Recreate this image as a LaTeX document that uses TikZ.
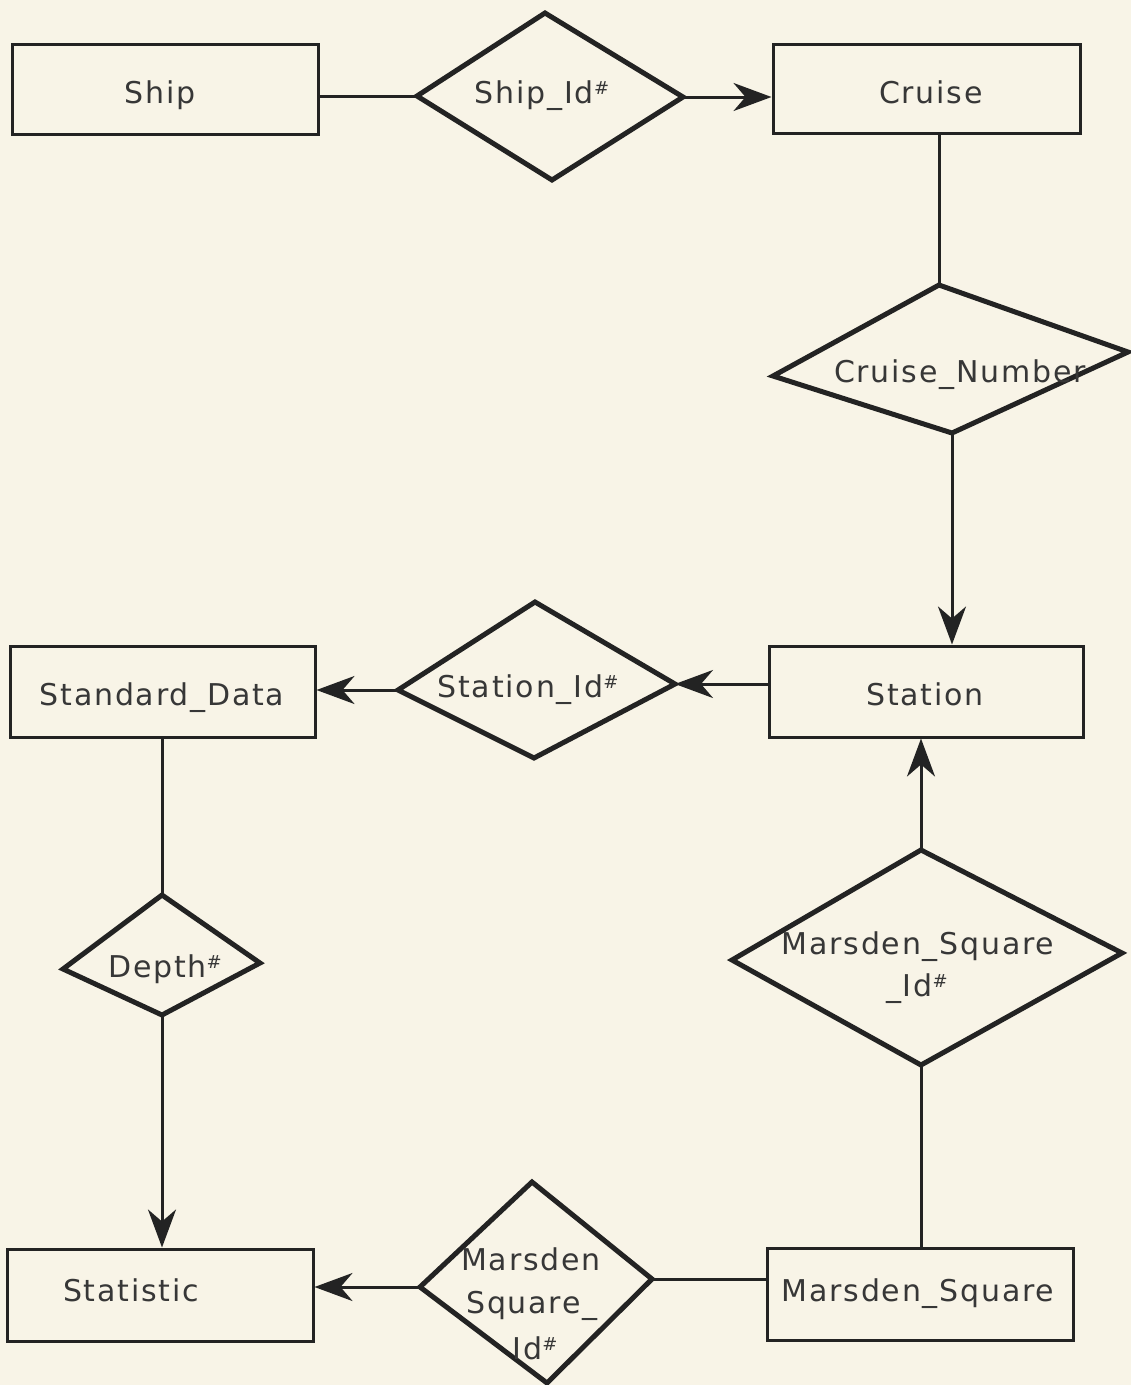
\documentclass[tikz,border=0pt]{standalone}
\usepackage{fontspec}
\setmainfont{DejaVu Sans}[LetterSpace=6]
\usetikzlibrary{arrows.meta}
\definecolor{paper}{RGB}{248,244,231}
\definecolor{ink}{RGB}{35,35,35}
\definecolor{txt}{RGB}{55,55,55}
\newcommand\hsh{\raisebox{9pt}{\fontsize{18}{18}\selectfont\#}}
\begin{document}
\begin{tikzpicture}[x=1pt,y=-1pt,
  entity/.style={draw=ink,line width=3pt,rectangle,inner sep=0pt},
  rel/.style={draw=ink,line width=5pt,line join=miter},
  lbl/.style={font=\fontsize{30}{36}\selectfont,text=txt,inner sep=0pt,
    text height=21.9pt,text depth=0pt},
  conn/.style={draw=ink,line width=3pt},
  arr/.style={conn,-{Stealth[length=38pt,width=28pt,inset=12pt]}}]
\fill[paper] (0,0) rectangle (1131,1385);
\useasboundingbox (0,0) rectangle (1131,1385);
% entities
\node[entity,minimum width=306pt,minimum height=90pt] (ship) at (165,89) {};
\node[entity,minimum width=307pt,minimum height=89pt] (cruise) at (926.5,88.5) {};
\node[entity,minimum width=314pt,minimum height=91pt] (station) at (926,691.5) {};
\node[entity,minimum width=305pt,minimum height=91pt] (stdata) at (162.5,691.5) {};
\node[entity,minimum width=306pt,minimum height=92pt] (statistic) at (160,1295) {};
\node[entity,minimum width=306pt,minimum height=92pt] (msq) at (920,1294) {};
\node[lbl] (shiptext) at (160,93) {Ship};
\node[lbl] (cruisetext) at (931,93) {Cruise};
\node[lbl] (stationtext) at (925,695) {Station};
\node[lbl] (stdatatext) at (162,695) {Standard\_Data};
\node[lbl] (statistictext) at (131,1291) {Statistic};
\node[lbl] (msqtext) at (918,1291) {Marsden\_Square};
% relationship diamonds
\coordinate (sidT) at (545,13);   \coordinate (sidL) at (417,96);
\coordinate (sidR) at (683,97);   \coordinate (sidB) at (552,180);
\coordinate (cnT) at (939,285);   \coordinate (cnL) at (773,376);
\coordinate (cnR) at (1128,352);  \coordinate (cnB) at (952,433);
\coordinate (stidT) at (535,602); \coordinate (stidL) at (398,690);
\coordinate (stidR) at (675,684); \coordinate (stidB) at (534,758);
\coordinate (depT) at (162,895);  \coordinate (depL) at (63,969);
\coordinate (depR) at (260,963);  \coordinate (depB) at (162,1015);
\coordinate (msidT) at (921,850); \coordinate (msidL) at (732,960);
\coordinate (msidR) at (1122,953);\coordinate (msidB) at (921,1065);
\coordinate (mstT) at (532,1182); \coordinate (mstL) at (420,1287);
\coordinate (mstR) at (652,1279); \coordinate (mstB) at (547,1383);
\draw[rel] (sidT) -- (sidR) -- (sidB) -- (sidL) -- cycle;
\draw[rel] (cnT) -- (cnR) -- (cnB) -- (cnL) -- cycle;
\draw[rel] (stidT) -- (stidR) -- (stidB) -- (stidL) -- cycle;
\draw[rel] (depT) -- (depR) -- (depB) -- (depL) -- cycle;
\draw[rel] (msidT) -- (msidR) -- (msidB) -- (msidL) -- cycle;
\draw[rel] (mstT) -- (mstR) -- (mstB) -- (mstL) -- cycle;
% relationship labels
\node[lbl] (sidtext) at (542,92.5) {Ship\_Id\hsh};
\node[lbl] (cntext) at (960,371.5) {Cruise\_Number};
\node[lbl] (stidtext) at (528,686.5) {Station\_Id\hsh};
\node[lbl] (deptext) at (165,966.5) {Depth\hsh};
\node[lbl] (msidtexta) at (918,944) {Marsden\_Square};
\node[lbl] (msidtextb) at (917,986) {\_Id\hsh};
\node[lbl] (msttexta) at (531,1260) {Marsden};
\node[lbl] (msttextb) at (532,1303) {Square\_};
\node[lbl] (msttextc) at (535,1349) {Id\hsh};
% connectors
\draw[conn] (ship.east |- sidL) -- (sidL);
\draw[arr] (sidR) -- (sidR -| cruise.west);
\draw[conn] (cruise.south -| cnT) -- (cnT);
\draw[arr] (cnB) -- (cnB |- station.north);
\draw[arr] (station.west |- stidR) -- (stidR);
\draw[arr] (stidL) -- (stidL -| stdata.east);
\draw[conn] (stdata.south -| depT) -- (depT);
\draw[arr] (depB) -- (depB |- statistic.north);
\draw[arr] (msidT) -- (msidT |- station.south);
\draw[conn] (msq.north -| msidB) -- (msidB);
\draw[conn] (msq.west |- mstR) -- (mstR);
\draw[arr] (mstL) -- (mstL -| statistic.east);
\end{tikzpicture}
\end{document}
